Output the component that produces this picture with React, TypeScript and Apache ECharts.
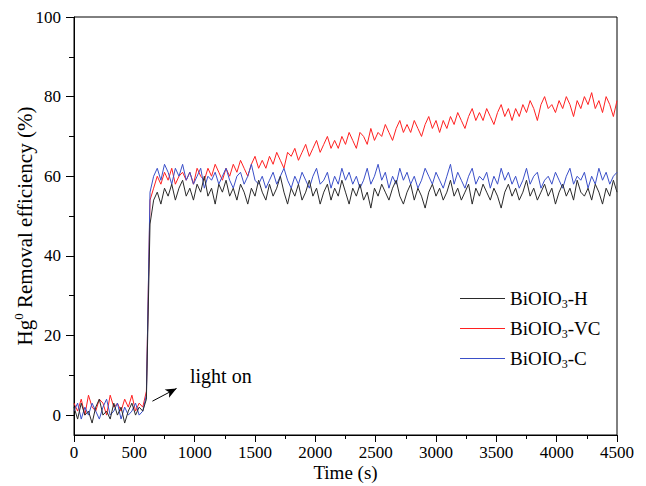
import React, { useEffect, useRef } from "react";
import * as echarts from "echarts";

// Time step of sampled points (s)
const timeStep = 30;

const seriesNames = ["BiOIO3-H", "BiOIO3-VC", "BiOIO3-C"];

const valuesH = [
  2, -1, 3, 0, 1, -2, 2, 4, 0, 1, -1, 3, 0, 2, -2, 1, 3, 0, 2, 1,
  4, 48,
  54, 56, 53, 57, 55, 58, 54, 57, 59, 55,
  57, 54, 58, 56, 60, 55, 57, 53, 58, 56,
  59, 55, 57, 54, 58, 56, 53, 57, 55, 59,
  56, 54, 58, 55, 57, 60, 56, 53, 57, 55,
  58, 54, 56, 59, 55, 57, 53, 56, 58, 54,
  57, 55, 59, 56, 53, 57, 55, 58, 54, 56,
  52, 57, 55, 58, 56, 54, 57, 59, 55, 53,
  56, 58, 54, 57, 55, 52, 56, 58, 55, 57,
  54, 56, 59, 55, 57, 54, 56, 58, 53, 57,
  55, 58, 56, 54, 57, 55, 52, 56, 58, 55,
  57, 54, 56, 59, 55, 57, 54, 56, 58, 55,
  57, 53, 56, 58, 55, 57, 54, 59, 56, 55,
  57, 54, 58, 56, 53, 57, 55, 59, 56,
];

const valuesVC = [
  3, 1, 4, 0, 5, 2, 1, 4, 3, 0, 5, 2, 3, 1, 4, 2, 5, 1, 3, 2,
  6, 54,
  57, 60, 58, 61, 59, 62, 58, 60, 61, 59,
  61, 58, 62, 60, 59, 62, 60, 63, 61, 59,
  62, 60, 63, 61, 64, 62, 60, 63, 65, 62,
  64, 62, 65, 63, 66, 64, 62, 66, 65, 67,
  64, 66, 68, 65, 67, 69, 66, 68, 70, 67,
  69, 67, 70, 68, 71, 69, 67, 71, 70, 68,
  72, 69, 71, 70, 73, 71, 69, 72, 74, 71,
  73, 71, 74, 72, 70, 73, 75, 72, 74, 71,
  74, 72, 75, 73, 76, 74, 72, 75, 77, 74,
  76, 74, 77, 75, 73, 76, 78, 75, 77, 74,
  77, 75, 78, 76, 79, 77, 74, 78, 80, 77,
  78, 76, 79, 77, 80, 78, 75, 79, 77, 80,
  78, 81, 77, 79, 76, 80, 78, 75, 79,
];

const valuesC = [
  1, 3, -1, 2, 0, 3, 1, -1, 2, 4, 0, 1, 3, -1, 2, 0, 1, 3, 0, 1,
  5, 56,
  60, 62, 59, 63, 61, 58, 62, 60, 63, 59,
  61, 58, 60, 62, 57, 60, 59, 61, 58, 60,
  62, 59, 57, 60, 61, 58, 60, 63, 59, 58,
  60, 57, 59, 61, 58, 60, 62, 59, 57, 60,
  58, 61, 59, 57, 60, 62, 58, 59, 61, 57,
  60, 58, 62, 59, 61, 58, 60, 57, 59, 62,
  58, 60, 63, 59, 61, 57, 60, 58, 62, 59,
  61, 58, 60, 57, 59, 62, 60, 58, 61, 59,
  57, 60, 63, 58, 61, 59, 57, 60, 62, 58,
  60, 59, 61, 57, 60, 58, 62, 59, 61, 58,
  60, 57, 59, 62, 58, 60, 61, 57, 59, 60,
  58, 61, 59, 57, 60, 62, 58, 60, 59, 61,
  57, 60, 58, 62, 59, 61, 58, 60, 61,
];

const yMajorTicks = [0, 20, 40, 60, 80, 100];
const yMinorTicks = [10, 30, 50, 70, 90];

// "light on" arrow, in data coordinates [time, value]
const arrowStart = [650, 3.5];
const arrowEnd = [850, 6.7];

const colors = ["#2a2a2a", "#ff2020", "#3a4fc8"];
const FONT = "'Liberation Serif', 'Times New Roman', serif";

function toPairs(vals: number[]) {
  return vals.map((v, i) => [i * timeStep, v]);
}

export default function App() {
  const ref = useRef<HTMLDivElement>(null);
  useEffect(() => {
    if (!ref.current) return;
    const chart = echarts.init(ref.current, null, { renderer: "svg" });
    const allVals = [valuesH, valuesVC, valuesC];
    const legendFmt = (name: string) => {
      const suffix = name.split("3")[1];
      return `{a|BiOIO}{s|3}{a|${suffix}}`;
    };
    chart.setOption({
      animation: false,
      backgroundColor: "#ffffff",
      grid: {
        left: 74,
        right: 29,
        top: 17,
        bottom: 51,
        show: true,
        borderColor: "#000",
        borderWidth: 1,
        containLabel: false,
        outerBoundsMode: "none",
      },
      legend: {
        orient: "vertical",
        left: 455,
        top: 284,
        icon: "rect",
        itemWidth: 45,
        itemHeight: 1,
        itemGap: 9,
        data: seriesNames,
        formatter: legendFmt,
        textStyle: {
          fontFamily: FONT,
          color: "#000",
          rich: {
            a: { fontFamily: FONT, fontSize: 19, color: "#000", lineHeight: 23 },
            s: {
              fontFamily: FONT,
              fontSize: 12,
              color: "#000",
              lineHeight: 8,
              verticalAlign: "bottom",
            },
          },
        },
      },
      xAxis: {
        type: "value",
        min: 0,
        max: 4500,
        interval: 500,
        name: "Time (s)",
        nameLocation: "middle",
        nameGap: 28,
        nameMoveOverlap: false,
        nameTextStyle: { fontFamily: FONT, fontSize: 19, color: "#000" },
        axisLine: { show: true, onZero: false, lineStyle: { color: "#000", width: 1 } },
        axisTick: { show: true, length: 7, lineStyle: { color: "#000" } },
        minorTick: { show: true, splitNumber: 2, length: 4, lineStyle: { color: "#000" } },
        axisLabel: {
          fontFamily: FONT,
          fontSize: 17,
          color: "#000",
          margin: 9,
          formatter: (v: number) => String(v),
        },
        splitLine: { show: false },
      },
      yAxis: [
        {
          type: "value",
          min: -5,
          max: 100,
          name: "{a|Hg}{s|0}{a| Removal efficiency (%)}",
          nameLocation: "middle",
          nameRotate: 90,
          nameGap: 36,
          nameMoveOverlap: false,
          nameTextStyle: {
            fontFamily: FONT,
            color: "#000",
            rich: {
              a: { fontFamily: FONT, fontSize: 21, color: "#000", lineHeight: 26 },
              s: {
                fontFamily: FONT,
                fontSize: 13,
                color: "#000",
                lineHeight: 10,
                verticalAlign: "top",
              },
            },
          },
          axisLine: { show: true, onZero: false, lineStyle: { color: "#000", width: 1 } },
          axisTick: {
            show: true,
            length: 8,
            customValues: yMajorTicks,
            lineStyle: { color: "#000" },
          },
          axisLabel: {
            fontFamily: FONT,
            fontSize: 17,
            color: "#000",
            margin: 13,
            customValues: yMajorTicks,
          },
          splitLine: { show: false },
        },
        {
          type: "value",
          min: -5,
          max: 100,
          position: "left",
          axisLine: { show: false },
          axisTick: {
            show: true,
            length: 5,
            customValues: yMinorTicks,
            lineStyle: { color: "#000" },
          },
          axisLabel: { show: false },
          splitLine: { show: false },
        },
      ],
      series: seriesNames.map((name, i) => ({
        name,
        type: "line",
        data: toPairs(allVals[i]),
        symbol: "none",
        color: colors[i],
        lineStyle: { width: 1, color: colors[i] },
        z: i === 0 ? 4 : i === 2 ? 3 : 2,
        ...(i === 0
          ? {
              markLine: {
                silent: true,
                symbol: ["none", "arrow"],
                symbolSize: [7, 11],
                label: { show: false },
                lineStyle: { color: "#000", width: 1, type: "solid" },
                data: [[{ coord: arrowStart }, { coord: arrowEnd }]],
              },
            }
          : {}),
      })),
      graphic: [
        {
          type: "text",
          left: 190,
          top: 366,
          style: {
            text: "light on",
            fontFamily: FONT,
            fontSize: 20,
            fill: "#000",
          },
        },
      ],
    });
    return () => chart.dispose();
  }, []);
  return (
    <div
      ref={ref}
      style={{ position: "absolute", left: 0, top: 0, width: 646, height: 486 }}
    />
  );
}
